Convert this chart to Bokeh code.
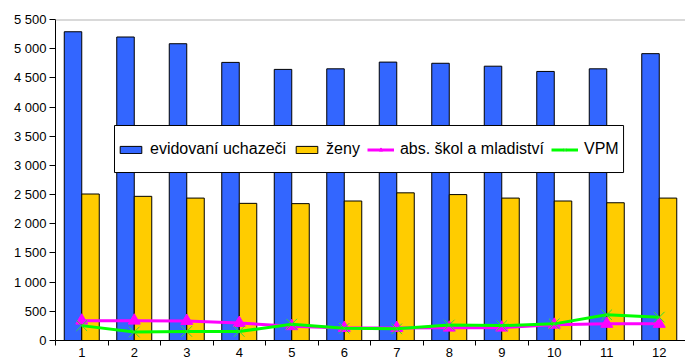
from bokeh.plotting import figure
from bokeh.models import FixedTicker, Span, Legend, LegendItem, ColumnDataSource, BoxAnnotation
from bokeh.embed import file_html
from bokeh.resources import INLINE

months = [1, 2, 3, 4, 5, 6, 7, 8, 9, 10, 11, 12]
evidovani = [5290, 5200, 5085, 4765, 4645, 4655, 4770, 4750, 4700, 4610, 4655, 4915]
zeny = [2510, 2470, 2440, 2350, 2345, 2390, 2530, 2500, 2440, 2390, 2360, 2440]
abs_skol = [340, 340, 335, 300, 245, 215, 215, 220, 220, 270, 285, 285]
vpm = [255, 145, 155, 155, 280, 210, 200, 265, 255, 285, 440, 400]

y_ticks = [0, 500, 1000, 1500, 2000, 2500, 3000, 3500, 4000, 4500, 5000, 5500]
y_labels = ["0", "500", "1 000", "1 500", "2 000", "2 500", "3 000", "3 500",
            "4 000", "4 500", "5 000", "5 500"]
names = ["evidovaní uchazeči", "ženy", "abs. škol a mladiství", "VPM"]

FONT = "Liberation Sans"

src = ColumnDataSource(dict(
    m=months,
    m_blue=[m - 1/6 for m in months],
    m_yel=[m + 1/6 for m in months],
    ev=evidovani, ze=zeny, ab=abs_skol, vp=vpm,
))

p = figure(width=685, height=362, x_range=(0.5, 12.5), y_range=(0, 5500),
           output_backend="svg", toolbar_location=None,
           min_border_left=55, min_border_right=0, min_border_top=19, min_border_bottom=22)
p.outline_line_color = None
p.xgrid.visible = False
p.ygrid.visible = False

r_blue = p.vbar(x="m_blue", top="ev", width=1/3, source=src,
                fill_color="#3366FF", line_color="#000000", line_width=1)
r_yel = p.vbar(x="m_yel", top="ze", width=1/3, source=src,
               fill_color="#FFCC00", line_color="#000000", line_width=1)

r_ab_line = p.line(x="m", y="ab", source=src, line_color="#FF00FF", line_width=3)
r_ab_pts = p.scatter(x="m", y="ab", source=src, marker="triangle", size=12,
                     fill_color="#FF00FF", line_color="#FF00FF")
r_vp_line = p.line(x="m", y="vp", source=src, line_color="#00FF00", line_width=3)
r_vp_pts = p.scatter(x="m", y="vp", source=src, marker="x", size=15,
                     line_color="#33DD33", line_width=1)

p.add_layout(Span(location=5500, dimension="width", line_color="#B4B4B4", line_width=2))

# axes
p.xaxis.ticker = FixedTicker(ticks=months, minor_ticks=[m + 0.5 for m in [0] + months])
p.xaxis.major_tick_line_color = None
p.xaxis.major_tick_out = 0
p.xaxis.major_tick_in = 0
p.xaxis.minor_tick_out = 5
p.xaxis.minor_tick_in = 0
p.xaxis.minor_tick_line_color = "#000000"
p.xaxis.major_label_standoff = 2
p.xaxis.axis_line_color = "#000000"

p.yaxis.ticker = FixedTicker(ticks=y_ticks)
p.yaxis.major_label_overrides = {t: l for t, l in zip(y_ticks, y_labels)}
p.yaxis.major_tick_out = 6
p.yaxis.major_tick_in = 0
p.yaxis.minor_tick_line_color = None
p.yaxis.major_label_standoff = 3
p.yaxis.axis_line_color = "#000000"

for ax in (p.xaxis, p.yaxis):
    ax.major_label_text_font = FONT
    ax.major_label_text_font_size = "13px"
    ax.major_label_text_color = "#000000"

# legend frame (box behind legend entries)
p.add_layout(BoxAnnotation(left=1.624, right=11.32, top=3684, bottom=2878,
                           fill_color="#FFFFFF", fill_alpha=1,
                           line_color="#000000", line_width=1, line_alpha=1))

legend = Legend(items=[
    LegendItem(label=names[0], renderers=[r_blue]),
    LegendItem(label=names[1], renderers=[r_yel]),
    LegendItem(label=names[2], renderers=[r_ab_line, r_ab_pts]),
    LegendItem(label=names[3], renderers=[r_vp_line, r_vp_pts]),
], orientation="horizontal", location=(62, 182))
legend.label_text_font = FONT
legend.label_text_font_size = "16px"
legend.label_text_color = "#000000"
legend.glyph_width = 27
legend.glyph_height = 9
legend.label_standoff = 6
legend.spacing = 7
legend.padding = 5
legend.margin = 0
legend.border_line_color = None
legend.background_fill_alpha = 0
p.add_layout(legend)

open("out.html", "w").write(file_html(p, INLINE))
